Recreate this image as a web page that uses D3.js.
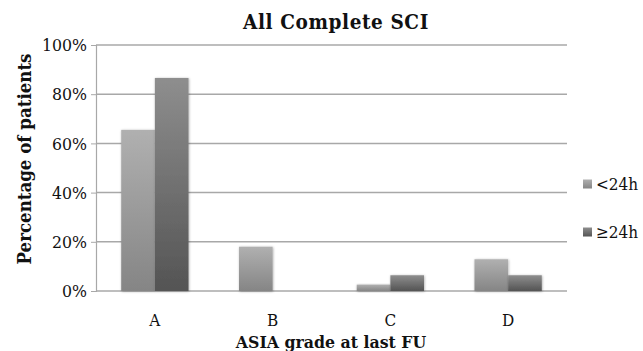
<!DOCTYPE html>
<html><head><meta charset="utf-8">
<script src="https://cdn.jsdelivr.net/npm/d3@7/dist/d3.min.js"></script>
<style>body{margin:0;background:#fff}svg{display:block}text{font-stretch:condensed}</style>
</head><body>
<script>
const categories = ["A","B","C","D"];
const seriesNames = ["<24h","≥24h"];
const under24 = [65.5, 18.0, 2.6, 12.9];
const over24 = [86.6, 0, 6.4, 6.4];
const yTicks = [0,20,40,60,80,100];

const W=643,H=351;
const m={l:96,r:76,t:45,b:60};
const svg=d3.select("body").append("svg").attr("width",W).attr("height",H);
const defs=svg.append("defs");
const g1=defs.append("linearGradient").attr("id","g1").attr("x1",0).attr("y1",0).attr("x2",0).attr("y2",1);
g1.append("stop").attr("offset","0%").attr("stop-color","#b0b0b0");
g1.append("stop").attr("offset","100%").attr("stop-color","#858585");
const g2=defs.append("linearGradient").attr("id","g2").attr("x1",0).attr("y1",0).attr("x2",0).attr("y2",1);
g2.append("stop").attr("offset","0%").attr("stop-color","#8e8e8e");
g2.append("stop").attr("offset","100%").attr("stop-color","#545454");
const f=defs.append("filter").attr("id","sh").attr("x","-20%").attr("y","-20%").attr("width","140%").attr("height","140%");
f.append("feDropShadow").attr("dx",0.5).attr("dy",0.5).attr("stdDeviation",1).attr("flood-color","#000").attr("flood-opacity",0.35);

const x=d3.scaleBand().domain(categories).range([m.l,W-m.r]);
const y=d3.scaleLinear().domain([0,100]).range([H-m.b,m.t]);
const xs=d3.scaleBand().domain(seriesNames).range([0,x.bandwidth()]).paddingOuter(0.75).paddingInner(0);

const font="'DejaVu Serif Condensed','DejaVu Serif', serif";
// gridlines
svg.append("g").selectAll("line").data(yTicks).join("line")
  .attr("x1",m.l).attr("x2",W-m.r).attr("y1",d=>y(d)).attr("y2",d=>y(d))
  .attr("stroke","#a8a8a8").attr("stroke-width",1.5);
// y axis
const ya=svg.append("g").attr("transform",`translate(${m.l},0)`).call(d3.axisLeft(y).tickValues(yTicks).tickFormat(d=>d+"%").tickSize(5).tickPadding(4));
ya.select(".domain").attr("stroke","#a8a8a8").attr("stroke-width",1.2);
ya.selectAll(".tick line").attr("stroke","#a8a8a8");
ya.selectAll("text").attr("font-family",font).attr("font-size",17.5).attr("fill","#111");

// bars
const series=[under24,over24];
const grads=["url(#g1)","url(#g2)"];
series.forEach((vals,si)=>{
  svg.append("g").selectAll("rect").data(vals.map((v,i)=>({v,c:categories[i]}))).join("rect")
   .attr("x",d=>x(d.c)+xs(seriesNames[si])).attr("width",xs.bandwidth())
   .attr("y",d=>y(d.v)).attr("height",d=>y(0)-y(d.v))
   .attr("fill",grads[si]).attr("filter","url(#sh)");
});

// x tick labels
svg.append("g").selectAll("text").data(categories).join("text")
  .attr("x",d=>x(d)+x.bandwidth()/2).attr("y",326).attr("text-anchor","middle")
  .attr("font-family",font).attr("font-size",17).attr("fill","#111").text(d=>d);

// titles
svg.append("text").attr("x",336).attr("y",29).attr("text-anchor","middle")
  .attr("font-family",font).attr("font-weight","bold").attr("font-size",20.5).attr("letter-spacing",0.6).attr("fill","#111").text("All Complete SCI");
svg.append("text").attr("x",331).attr("y",348).attr("text-anchor","middle")
  .attr("font-family",font).attr("font-weight","bold").attr("font-size",17.5).attr("fill","#111").text("ASIA grade at last FU");
svg.append("text").attr("transform","translate(31,159) rotate(-90)").attr("text-anchor","middle")
  .attr("font-family",font).attr("font-weight","bold").attr("font-size",18.5).attr("fill","#111").text("Percentage of patients");

// legend
const lg=svg.append("g");
seriesNames.forEach((n,i)=>{
  const yy=[184,232][i];
  lg.append("rect").attr("x",583).attr("y",yy-4.5).attr("width",9).attr("height",9).attr("fill",grads[i]);
  lg.append("text").attr("x",596).attr("y",yy+6).attr("font-family",font).attr("font-size",17).attr("fill","#111").text(n);
});
</script>
</body></html>
